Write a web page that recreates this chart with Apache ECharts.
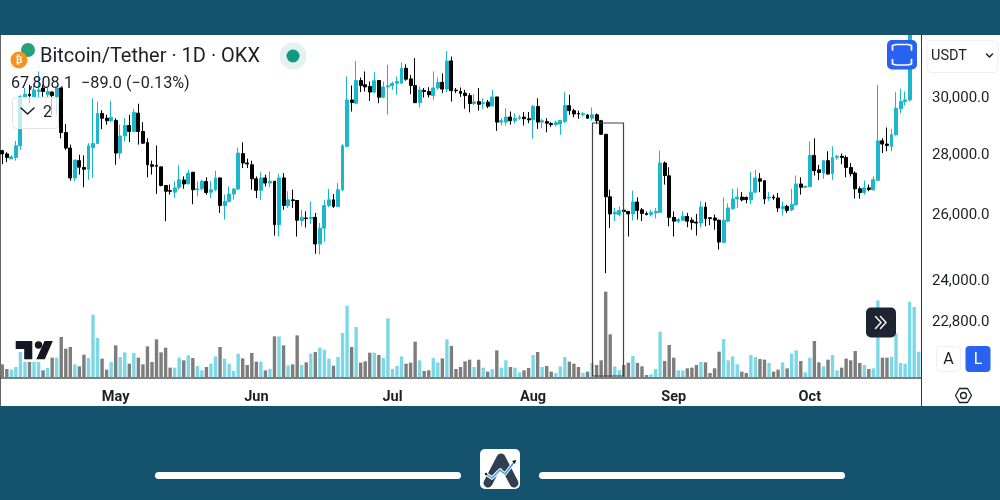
<!DOCTYPE html>
<html><head><meta charset="utf-8">
<style>html,body{margin:0;padding:0;background:#15526d}#c{width:1000px;height:500px;filter:blur(0.3px)}</style>
<script src="https://cdn.jsdelivr.net/npm/echarts@6/dist/echarts.min.js"></script>
</head><body><div id="c"></div>
<script>
const opens=[28090,27980,27810,27860,28260,30010,30100,30010,30200,30330,
30080,30180,30010,30330,28720,28180,27170,27750,27520,27460,
28200,28340,29400,29230,29140,29150,28010,28600,28970,28760,
29410,28760,28370,27610,27590,27540,26920,26750,26700,26860,
27100,26980,27360,26780,26810,27050,26700,26780,27170,26270,
26400,26640,26800,27990,27670,27610,27140,26760,27170,27000,
27060,25660,27170,26270,26450,26430,25790,25870,25850,25890,
25060,25550,26270,26450,26240,26780,28240,29890,29770,30610,
30450,30390,30180,30610,29990,30370,30410,30510,30510,31070,
30670,30420,29790,30240,30200,30050,30330,30540,30290,31350,
30250,30200,30140,30050,29760,29830,29760,29810,29670,30000,
29090,29090,29270,29140,29230,29270,29210,29170,29650,29090,
29110,29040,29000,29020,29110,29680,29500,29400,29350,29340,
29230,29350,29140,28660,26550,26000,25980,26120,26080,26000,
26380,26130,26010,25980,26030,26050,27670,27240,25890,25770,
25800,25920,25800,25740,25710,26220,25880,25870,25800,25110,
25770,26170,26480,26540,26530,26450,26700,27140,27080,26510,
26540,26510,26170,26240,26130,26290,26970,26860,26890,27930,
27440,27330,27750,27310,27860,27900,27860,27520,27330,26810,
26690,26840,26780,27090,28430,28320,28240,28640,29570,29830,
29890,32900,33600];
const closes=[27980,27860,27880,28260,30010,30100,30050,30260,30260,30200,
30200,30050,30330,28720,28180,27170,27770,27530,27460,28260,
28340,29400,29230,29140,29260,28010,28600,28970,28760,29440,
28760,28350,27610,27560,27560,26920,26730,26730,26840,27110,
26970,27330,26780,26810,27060,26690,26780,27170,26270,26400,
26640,26800,28010,27670,27640,27140,26760,27170,27000,27060,
25660,27170,26270,26450,26430,25800,25890,25850,25890,25060,
25550,26270,26450,26240,26780,28260,29890,29800,30610,30420,
30370,30180,30600,29990,30370,30410,30500,30570,31070,30660,
30420,29790,30260,30200,30080,30330,30540,30290,31350,30230,
30230,30130,30050,29760,29820,29730,29790,29660,30000,29090,
29140,29270,29140,29230,29270,29210,29170,29650,29090,29140,
29050,29000,29070,29150,29690,29500,29380,29380,29390,29230,
29350,29140,28660,26550,26000,26050,26110,26080,26000,26380,
26110,26010,25980,26050,26080,27670,27250,25890,25770,25820,
25920,25770,25730,25710,26220,25850,25850,25800,25120,25800,
26190,26480,26540,26450,26460,26700,27170,27060,26480,26540,
26510,26190,26240,26110,26310,26970,26860,26890,27930,27410,
27350,27750,27300,27860,27900,27860,27520,27310,26810,26690,
26840,26790,27110,28430,28320,28270,28640,29590,29830,29890,
32900,33600,33900];
const highs=[28120,28040,27930,28430,30070,30330,30450,30450,30950,30450,
30330,30200,30330,30330,29020,28300,27770,27950,27930,28350,
29950,29830,29520,29350,29860,29230,29000,29230,29350,29570,
29750,29090,28520,27750,28270,27540,26920,26950,27060,27590,
27220,27440,27360,27060,27110,27190,27060,27410,27170,26620,
26890,26840,28200,28380,27820,27750,27220,27360,27280,27390,
27060,27310,27330,26730,26780,26430,26130,26080,26400,26030,
25710,26450,26810,26640,27000,28320,30760,30420,31350,30720,
30950,30570,30920,30610,30570,31200,30570,30760,31300,31220,
30820,31460,30390,30330,30360,30950,30720,30880,31740,31520,
30330,30350,30260,30140,30100,30330,29950,29890,30260,30000,
29230,29590,29470,29410,29350,29450,29450,29710,29950,29210,
29230,29090,29140,29170,30180,30080,29570,29500,29450,29380,
29620,29400,29170,28660,26780,26190,26240,26240,26080,26750,
26530,26190,26080,26130,26190,28090,27720,27530,26080,25870,
26080,26030,25890,26000,26400,26370,25890,25980,25820,26530,
26340,26810,26840,26700,26560,27360,27440,27330,27080,26700,
26620,26670,26400,26290,26810,27250,27190,26920,28410,28520,
27610,27780,28070,28240,27950,27990,27930,27670,27390,26890,
27090,26950,27220,30450,28520,28900,28850,30180,30300,30200,
33100,34000,35000];
const lows=[27630,27700,27810,27750,28120,29950,29770,29950,29950,30010,
29950,29350,29350,28520,28120,27080,27060,27280,26860,27110,
27170,28340,28840,29000,29090,27610,27820,28410,28390,28760,
28300,28320,27190,27280,26640,26890,25770,26620,26510,26780,
26810,26950,26310,26560,26750,26620,26510,26730,26030,25820,
26400,26450,26780,27500,27500,26780,26510,26450,26890,26860,
25320,25290,26130,26190,26190,25290,25610,25570,25680,24760,
24740,25120,26210,26190,26210,26730,28200,29470,29730,30180,
30200,29850,30140,29770,29950,29350,30260,30080,30480,30600,
30100,29790,29610,29980,29980,29890,30260,30140,30180,29830,
30140,30000,29570,29440,29710,29500,29570,29590,29650,28780,
28970,28970,29000,29050,29170,28970,29050,28500,28850,28880,
28730,28920,28940,28640,29050,29350,29260,29210,29290,29210,
29140,29020,28640,24180,25550,25770,25920,25980,25290,25790,
25820,25770,25950,25920,25850,26030,26950,25610,25290,25710,
25770,25580,25500,25320,25580,25610,25640,25500,24890,25090,
25740,26130,26190,26400,26340,26310,26670,26700,26310,26420,
26450,26060,25950,26030,26080,26270,26620,26840,26860,27250,
27100,27140,27280,27110,27780,27630,27190,27220,26490,26490,
26620,26730,26750,27060,28010,28070,28070,28620,29410,29690,
29830,32700,33400];
const volumes=[38,24,22,30,75,45,45,45,45,20,
27,58,58,120,85,90,38,32,67,57,
187,117,55,22,45,95,60,74,40,72,
58,38,92,45,113,74,88,28,28,58,
50,65,57,33,20,30,40,62,90,55,
40,18,70,56,36,72,46,46,20,24,
122,122,95,35,38,125,36,44,70,75,
88,82,55,34,60,132,214,90,150,43,
47,73,73,66,57,176,24,33,62,40,
43,106,50,18,20,57,44,56,113,93,
24,30,47,52,30,52,28,16,24,80,
28,50,30,28,14,20,27,66,75,30,
33,16,12,32,60,46,40,30,13,16,
42,36,50,256,128,32,20,36,43,63,
42,32,6,8,24,136,48,96,58,20,
20,26,28,36,46,44,12,26,76,114,
50,62,38,16,12,66,60,54,52,42,
16,22,44,26,70,80,48,14,58,108,
44,32,52,66,20,28,55,50,78,42,
36,24,26,230,58,58,60,130,42,40,
226,210,76];
const monthTicks={25:'May',56:'Jun',86:'Jul',117:'Aug',148:'Sep',178:'Oct'};
const priceTicks=[22800,24000,26000,28000,30000];
const categories=opens.map((_,i)=>{const d=new Date(Date.UTC(2023,3,6+i));return d.toISOString().slice(0,10);});

const UP='#1bb7cd',DOWN='#000000',VUP='#7cd8e6',VDOWN='#7d7d7d';
const FF='Roboto, "Noto Sans", sans-serif';
const candleData=opens.map((o,i)=>[o,closes[i],lows[i],highs[i]]);
const volData=volumes.map((v,i)=>({value:v,itemStyle:{color:closes[i]>=opens[i]?VUP:VDOWN}}));

const rr=(x,y,w,h,r,fill,stroke,lw,z)=>({type:'rect',z:z||100,shape:{x,y,width:w,height:h,r},style:{fill,stroke:stroke||null,lineWidth:lw||0}});
const tx=(x,y,t,font,fill,align)=>({type:'text',z:110,x,y:y+1.5,style:{text:t,font,fill,align:align||'left',verticalAlign:'middle'}});
const pl=(pts,stroke,lw,z,extra)=>({type:'polyline',z:z||110,shape:{points:pts},style:Object.assign({stroke,lineWidth:lw,fill:null,lineCap:'round',lineJoin:'round'},extra||{})});
const pg=(pts,fill,z)=>({type:'polygon',z:z||110,shape:{points:pts},style:{fill}});
const ci=(cx,cy,r,fill,z)=>({type:'circle',z:z||110,shape:{cx,cy,r},style:{fill}});

const graphics=[
 // white chart panel under the series, top band over any mark that leaves the panel
 rr(0,35,1000,371,0,'#ffffff',null,0,-10),
 rr(0,0,1000,35,0,'#15526d',null,0,95),
 {type:'line',z:-9,shape:{x1:0.5,y1:35,x2:0.5,y2:406},style:{stroke:'#666',lineWidth:1}},
 {type:'line',z:90,shape:{x1:921.5,y1:378,x2:921.5,y2:406},style:{stroke:'#333',lineWidth:1}},
 // selection box
 {type:'rect',z:80,shape:{x:592.5,y:123,width:31,height:253},style:{fill:null,stroke:'#444',lineWidth:1.2}},
 // title
 ci(28,50,7,'#26a17b',105),
 ci(19,60,8.5,'#f7931a',106),
 tx(19,59,'₿','bold 10px "DejaVu Sans"','#fff','center'),
 tx(40,55.7,'Bitcoin/Tether · 1D · OKX','20px '+FF,'#1d1f26'),
 ci(293,56,13.5,'#e3f1ef',105),
 ci(293,56,6.5,'#0f9a80',106),
 tx(11,82,'67,808.1  −89.0 (−0.13%)','16.2px '+FF,'#1d1f26'),
 // collapsed legend
 rr(12.5,97.5,46,31,4,'rgba(255,255,255,0.72)','#e4e4e4',1,100),
 pl([[21,108],[27.5,114],[34,108]],'#1d1f26',1.6),
 tx(43,111.5,'2','16px '+FF,'#1d1f26'),
 // TV logo
 pg([[15.7,341],[32.3,341],[32.3,359.3],[24.2,359.3],[24.2,349],[15.7,349]],'#131722'),
 ci(38.5,345,3.7,'#131722'),
 pg([[44.5,341],[52.8,341],[44.8,359.3],[36.3,359.3]],'#131722'),
 // full-screen button
 rr(887,40,30,29.5,5,'#2962f0'),
 pl([[892.5,50],[892.5,45.5],[896,44.5],[908,44.5],[911.5,45.5],[911.5,50]],'#fff',1.7),
 pl([[892.5,59.5],[892.5,64],[896,65],[908,65],[911.5,64],[911.5,59.5]],'#fff',1.7),
 // currency chip
 rr(927,40.5,71,32,5,'#ffffff','#efefef',1),
 tx(931,54.5,'USDT','14.5px '+FF,'#1d1f26'),
 pl([[986.5,54],[989.5,57],[992.5,54]],'#1d1f26',1.5),
 // scroll button
 rr(866,307.5,30,30,5,'#1f2433'),
 pl([[875.5,316.5],[881,322.5],[875.5,328.5]],'#fff',1.4),
 pl([[880.5,316.5],[886,322.5],[880.5,328.5]],'#fff',1.4),
 // A / L
 rr(936.5,346.5,24,25,4,'#ffffff','#eeeeee',1),
 tx(948.5,358,'A','16px '+FF,'#1d1f26','center'),
 rr(965.5,346,25,26,4,'#2962f0'),
 tx(978,358,'L','16px '+FF,'#ffffff','center'),
 // settings
 pl([[955.5,395.5],[959.5,388.5],[967.5,388.5],[971.5,395.5],[967.5,402.5],[959.5,402.5],[955.5,395.5]],'#1d1f26',1.3),
 {type:'circle',z:110,shape:{cx:963.5,cy:395.5,r:3},style:{fill:null,stroke:'#1d1f26',lineWidth:1.3}},
 // bottom bar
 rr(155,472,306,7,3.5,'#ffffff'),
 rr(539,472,306,7,3.5,'#ffffff'),
 rr(480,449,40,40,5,'#ffffff'),
 pl([[488,483],[501,458],[514,483]],'#2f4052',9,111),
 pl([[486,474],[492,478],[500,470],[505,474],[515,461]],'#ffffff',3.4,112),
 pl([[486,474],[492,478],[500,470],[505,474],[515,461]],'#2d9ae0',1.4,113),
 pg([[512,461],[516,460],[515,464]],'#111',113),
 ci(486,474,1.2,'#111',113)
];

const chart=echarts.init(document.getElementById('c'),null,{renderer:'canvas',width:1000,height:500});
chart.setOption({
 animation:false,
 backgroundColor:'#15526d',
 graphic:{elements:graphics},
 grid:[
  {left:0,right:79,top:35,bottom:122},
  {left:0,right:79,top:291.7,bottom:123}
 ],
 xAxis:[
  {type:'category',gridIndex:0,data:categories,boundaryGap:true,
   axisLine:{lineStyle:{color:'#555',width:1.5}},axisTick:{show:false},splitLine:{show:false},
   axisLabel:{interval:(i)=>monthTicks[i]!==undefined,formatter:(v,i)=>monthTicks[i]||'',hideOverlap:false,
     margin:12,fontFamily:FF,fontWeight:'bold',fontSize:14.5,color:'#1d1f26'}},
  {type:'category',gridIndex:1,data:categories,boundaryGap:true,show:false}
 ],
 yAxis:[
  {type:'log',gridIndex:0,position:'right',min:21270,max:32362,logBase:10,
   axisLine:{show:true,lineStyle:{color:'#333',width:1}},axisTick:{show:false},splitLine:{show:false},minorTick:{show:false},
   axisLabel:{customValues:priceTicks,formatter:(v)=>Math.round(v).toLocaleString('en-US')+'.0',margin:11,
     verticalAlign:'top',padding:[-6,0,0,0],
     fontFamily:FF,fontSize:15,color:'#1d1f26',showMinLabel:true,showMaxLabel:true,hideOverlap:false}},
  {type:'value',gridIndex:1,min:0,max:256,show:false}
 ],
 series:[
  {type:'bar',name:'Volume',xAxisIndex:1,yAxisIndex:1,data:volData,barWidth:3.4,z:1},
  {type:'candlestick',name:'BTC/USDT',xAxisIndex:0,yAxisIndex:0,data:candleData,barWidth:3.4,z:2,
   itemStyle:{color:UP,color0:DOWN,borderColor:UP,borderColor0:DOWN,borderWidth:1}}
 ]
});
</script></body></html>
